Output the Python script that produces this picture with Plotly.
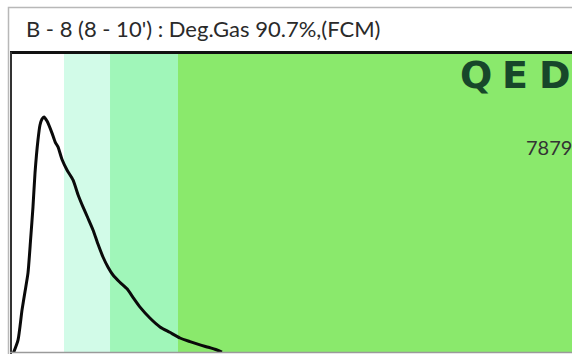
import plotly.graph_objects as go

# Histogram trace (channel vs. relative count)
channel = [0.36, 1.25, 1.96, 2.5, 3.03, 3.5, 3.92, 4.28, 4.81, 5.17, 5.53, 5.88, 6.42,
           7.31, 7.9, 8.38, 9.1, 9.98, 11.05, 12.0, 12.83, 13.7, 14.62, 15.5, 16.4,
           17.3, 18.18, 19.4, 20.68, 21.8, 23.0, 24.8, 26.56, 28.3, 30.12, 31.9, 33.69,
           35.2, 36.72, 37.6]
count = [-0.3, 4.3, 14.3, 20.5, 26.7, 38.0, 48.7, 60.0, 71.0, 76.0, 78.0, 78.7, 77.3,
         73.3, 70.2, 68.7, 64.5, 61.0, 57.7, 52.5, 48.7, 45.0, 41.0, 36.3, 32.0,
         28.6, 26.0, 23.6, 21.4, 18.4, 15.3, 11.6, 8.7, 6.9, 5.0, 3.8, 2.7,
         1.9, 1.0, 0.3]

# Gate regions along the channel axis
gate_edges = [0, 9.45, 17.65, 29.77, 100]
gate_colors = ["#ffffff", "#d2fbe8", "#a0f6b9", "#8ae96c"]

title_text = "B - 8 (8 - 10') : Deg.Gas 90.7%,(FCM)"
logo_letters = ["Q", "E", "D"]
count_label = "7879"

fig = go.Figure()

for i, col in enumerate(gate_colors):
    fig.add_shape(type="rect", xref="x", yref="paper",
                  x0=gate_edges[i], x1=gate_edges[i + 1], y0=0, y1=1,
                  fillcolor=col, line_width=0, layer="below")

fig.add_trace(go.Scatter(x=channel, y=count, mode="lines",
                         line=dict(color="#0a0a0a", width=3, shape="spline", smoothing=0.6),
                         hoverinfo="skip", showlegend=False))

W, H = 572, 354
L, T, B = 11, 53, 1
pw, ph = W - L, H - T - B


def px(x):
    return (x - L) / pw


def py(y):
    return (H - B - y) / ph


# outer grey frame of the panel
fig.add_shape(type="rect", xref="paper", yref="paper",
              x0=px(8.5), x1=px(600), y0=py(400), y1=py(7.5),
              line=dict(color="#b8b8b8", width=1.5), fillcolor="rgba(0,0,0,0)")
# heavy rule under the title
fig.add_shape(type="line", xref="paper", yref="paper",
              x0=px(10), x1=px(600), y0=py(52.5), y1=py(52.5),
              line=dict(color="#111111", width=3))
# plot left border
fig.add_shape(type="line", xref="paper", yref="paper",
              x0=px(11), x1=px(11), y0=py(360), y1=py(52),
              line=dict(color="#333333", width=2))
# baseline
fig.add_shape(type="line", xref="paper", yref="paper",
              x0=px(10), x1=px(600), y0=py(352.5), y1=py(352.5),
              line=dict(color="#9a9a9a", width=1.5))

fig.add_annotation(text=title_text, xref="paper", yref="paper",
                   x=px(24), y=py(29), xanchor="left", yanchor="middle",
                   showarrow=False, font=dict(family="Lato", size=22, color="#2a2a2a"))

# logo, letters set wide
for letter, cx in zip(logo_letters, [476, 515, 555]):
    fig.add_annotation(text=letter, xref="paper", yref="paper",
                       x=px(cx), y=py(75), xanchor="center", yanchor="middle",
                       showarrow=False,
                       font=dict(family="DejaVu Sans", size=38, color="#17472a", weight="bold"))

fig.add_annotation(text=count_label, xref="paper", yref="paper",
                   x=px(574), y=py(147), xanchor="right", yanchor="middle",
                   showarrow=False, font=dict(family="Lato", size=20, color="#333333"))

fig.update_layout(
    width=W, height=H,
    margin=dict(l=L, r=0, t=T, b=B, pad=0),
    paper_bgcolor="#ffffff", plot_bgcolor="#ffffff",
    xaxis=dict(range=[0, 100], visible=False, fixedrange=True),
    yaxis=dict(range=[0, 100], visible=False, fixedrange=True),
)

fig.write_html("out.html")
